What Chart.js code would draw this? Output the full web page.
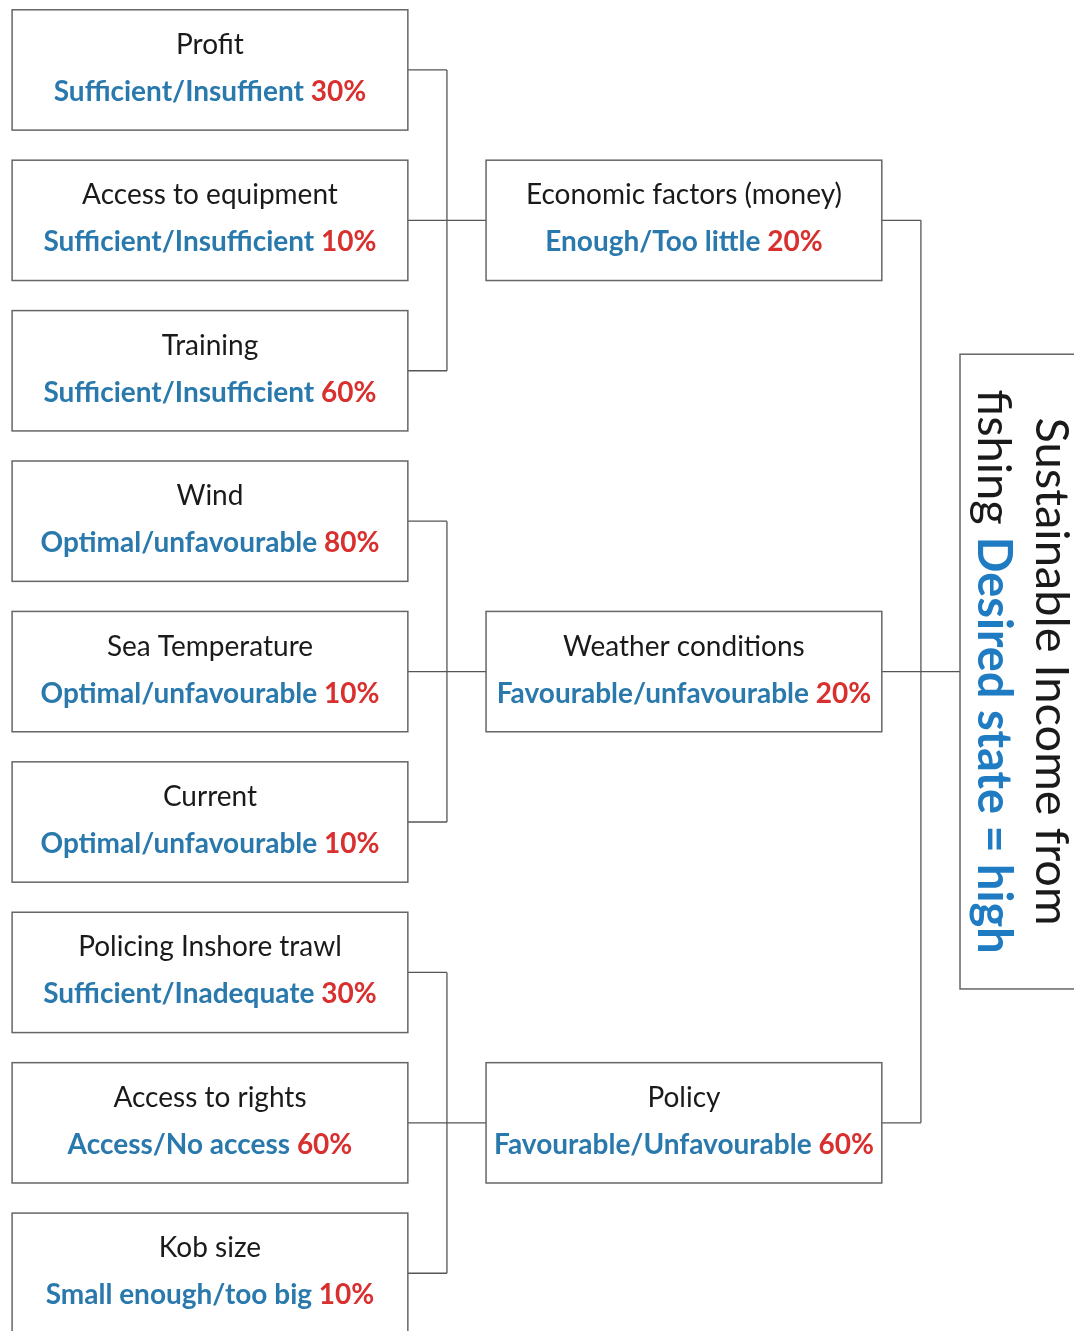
<!DOCTYPE html>
<html>
<head>
<meta charset="utf-8">
<script src="https://cdn.jsdelivr.net/npm/chart.js@4.4.1/dist/chart.umd.min.js"></script>
<style>
  html, body { margin: 0; padding: 0; background: #fff; }
  #wrap { width: 1074px; height: 1331px; }
</style>
</head>
<body>
<div id="wrap"><canvas id="tree" width="1074" height="1331"></canvas></div>
<script>
// --- Data ---
const leafNames = ['Profit', 'Access to equipment', 'Training', 'Wind', 'Sea Temperature', 'Current',
  'Policing Inshore trawl', 'Access to rights', 'Kob size'];
const leafStates = ['Sufficient/Insuffient', 'Sufficient/Insufficient', 'Sufficient/Insufficient',
  'Optimal/unfavourable', 'Optimal/unfavourable', 'Optimal/unfavourable',
  'Sufficient/Inadequate', 'Access/No access', 'Small enough/too big'];
const leafPercents = [30, 10, 60, 80, 10, 10, 30, 60, 10];
const leafParents = [0, 0, 0, 1, 1, 1, 2, 2, 2];

const factorNames = ['Economic factors (money)', 'Weather conditions', 'Policy'];
const factorStates = ['Enough/Too little', 'Favourable/unfavourable', 'Favourable/Unfavourable'];
const factorPercents = [20, 20, 60];

const goalLines = ['Sustainable Income from', 'fishing'];
const goalState = 'Desired state = high';

// --- Layout (in column / row units of the scales) ---
const BOX_W = 0.835;
const BOX_H = 0.8;
const GOAL_H = 4.22;
const FONT = 'Lato, "Open Sans", sans-serif';
const BLUE = '#2a79ad';
const RED = '#d7302e';
const LINE = '#555';

// each factor sits on the middle row of its children, the goal on the middle factor
const leafPoints = leafNames.map((_, i) => ({ x: 0, y: i }));
const factorPoints = factorNames.map((_, f) => {
  const rows = leafParents.map((p, i) => p === f ? i : null).filter(v => v !== null);
  return { x: 1, y: (Math.min(...rows) + Math.max(...rows)) / 2 };
});
const goalPoint = { x: 2, y: (factorPoints[0].y + factorPoints[factorPoints.length - 1].y) / 2 };

function boxRect(sx, sy, p, h) {
  const left = sx.getPixelForValue(p.x - BOX_W / 2);
  const right = sx.getPixelForValue(p.x + BOX_W / 2);
  const top = sy.getPixelForValue(p.y - h / 2);
  const bottom = sy.getPixelForValue(p.y + h / 2);
  return { left, right, top, bottom, cx: (left + right) / 2, cy: (top + bottom) / 2 };
}

function drawBox(ctx, r) {
  ctx.save();
  ctx.fillStyle = '#fff';
  ctx.strokeStyle = '#666';
  ctx.lineWidth = 1.5;
  ctx.fillRect(r.left, r.top, r.right - r.left, r.bottom - r.top);
  ctx.strokeRect(r.left, r.top, r.right - r.left, r.bottom - r.top);
  ctx.restore();
}

function drawTwoTone(ctx, state, pct, cx, y) {
  ctx.font = 'bold 28px ' + FONT;
  const a = state + ' ';
  const b = pct + '%';
  const wa = ctx.measureText(a).width;
  const wb = ctx.measureText(b).width;
  let x = cx - (wa + wb) / 2;
  ctx.textAlign = 'left';
  ctx.fillStyle = BLUE;
  ctx.fillText(a, x, y);
  ctx.fillStyle = RED;
  ctx.fillText(b, x + wa, y);
}

function drawNode(ctx, r, name, state, pct) {
  drawBox(ctx, r);
  ctx.save();
  ctx.textBaseline = 'middle';
  ctx.textAlign = 'center';
  ctx.fillStyle = '#1a1a1a';
  ctx.font = '28px ' + FONT;
  ctx.fillText(name, r.cx, r.cy - 25);
  drawTwoTone(ctx, state, pct, r.cx, r.cy + 22);
  ctx.restore();
}

function line(ctx, x1, y1, x2, y2) {
  ctx.beginPath();
  ctx.moveTo(x1, y1);
  ctx.lineTo(x2, y2);
  ctx.stroke();
}

const treePlugin = {
  id: 'tree',
  afterDatasetsDraw(chart) {
    const ctx = chart.ctx;
    const sx = chart.scales.x;
    const sy = chart.scales.y;

    // connectors
    ctx.save();
    ctx.strokeStyle = LINE;
    ctx.lineWidth = 1.3;
    const elbow1 = sx.getPixelForValue(0.5);
    factorPoints.forEach((fp, f) => {
      const rows = [];
      leafPoints.forEach((lp, i) => {
        if (leafParents[i] !== f) return;
        const y = sy.getPixelForValue(lp.y);
        rows.push(y);
        line(ctx, sx.getPixelForValue(lp.x + BOX_W / 2), y, elbow1, y);
      });
      line(ctx, elbow1, Math.min(...rows), elbow1, Math.max(...rows));
      const fy = sy.getPixelForValue(fp.y);
      line(ctx, elbow1, fy, sx.getPixelForValue(fp.x - BOX_W / 2), fy);
    });
    const elbow2 = sx.getPixelForValue(1.5);
    const fys = factorPoints.map(fp => sy.getPixelForValue(fp.y));
    factorPoints.forEach((fp, f) => line(ctx, sx.getPixelForValue(fp.x + BOX_W / 2), fys[f], elbow2, fys[f]));
    line(ctx, elbow2, Math.min(...fys), elbow2, Math.max(...fys));
    const gy = sy.getPixelForValue(goalPoint.y);
    line(ctx, elbow2, gy, sx.getPixelForValue(goalPoint.x - BOX_W / 2), gy);
    ctx.restore();

    // boxes
    leafPoints.forEach((p, i) => drawNode(ctx, boxRect(sx, sy, p, BOX_H), leafNames[i], leafStates[i], leafPercents[i]));
    factorPoints.forEach((p, i) => drawNode(ctx, boxRect(sx, sy, p, BOX_H), factorNames[i], factorStates[i], factorPercents[i]));

    // goal, text rotated to read top-down
    const g = boxRect(sx, sy, goalPoint, GOAL_H);
    drawBox(ctx, g);
    ctx.save();
    ctx.translate(g.left + 61, g.cy);
    ctx.rotate(Math.PI / 2);
    ctx.textBaseline = 'middle';
    ctx.font = '47px ' + FONT;
    ctx.fillStyle = '#1a1a1a';
    ctx.textAlign = 'center';
    ctx.fillText(goalLines[0], 0, -30);
    const w1 = ctx.measureText(goalLines[1] + ' ').width;
    ctx.font = 'bold 47px ' + FONT;
    const w2 = ctx.measureText(goalState).width;
    let x = -(w1 + w2) / 2;
    ctx.textAlign = 'left';
    ctx.font = '47px ' + FONT;
    ctx.fillText(goalLines[1] + ' ', x, 28);
    ctx.font = 'bold 47px ' + FONT;
    ctx.fillStyle = '#1f7cc2';
    ctx.fillText(goalState, x + w1, 28);
    ctx.restore();
  }
};

new Chart(document.getElementById('tree'), {
  type: 'scatter',
  data: {
    datasets: [{
      data: leafPoints.concat(factorPoints, [goalPoint]),
      pointRadius: 0,
      pointHoverRadius: 0
    }]
  },
  options: {
    responsive: false,
    animation: false,
    events: [],
    layout: { padding: 0 },
    plugins: { legend: { display: false }, tooltip: { enabled: false } },
    scales: {
      x: { type: 'linear', display: false, min: -0.443, max: 1.823 },
      y: { type: 'linear', display: false, reverse: true, min: -0.465, max: 8.384 }
    }
  },
  plugins: [treePlugin]
});
</script>
</body>
</html>
